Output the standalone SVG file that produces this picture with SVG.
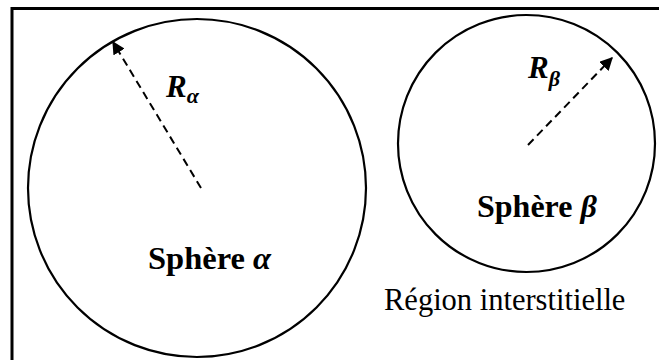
<svg xmlns="http://www.w3.org/2000/svg" width="659" height="360" viewBox="0 0 659 360">
<style>
.c{fill:none;stroke:#000;stroke-width:2.2}
.d{fill:none;stroke:#000;stroke-width:2;stroke-dasharray:8 5}
.b{font-family:"Liberation Serif","Times New Roman",serif;font-weight:bold;fill:#000}
.m{font-family:"Liberation Serif","Times New Roman",serif;font-weight:bold;font-style:italic;fill:#000}
.r{font-family:"Liberation Serif","Times New Roman",serif;fill:#000}
</style>
<defs>
<marker id="ah" viewBox="0 0 10 10" refX="9" refY="5" markerWidth="6.5" markerHeight="6.5" markerUnits="strokeWidth" orient="auto">
<path d="M0,0 L10,5 L0,10 z" fill="#000"/>
</marker>
</defs>
<rect x="0" y="0" width="659" height="360" fill="#fff"/>
<g id="frame"><path d="M12,362 V8.5 H662" fill="none" stroke="#000" stroke-width="3"/></g>
<g id="sphere-alpha">
<circle class="c" cx="197" cy="188" r="169"/>
<text class="b" x="148" y="269" font-size="32.5">Sphère <tspan class="m">α</tspan></text>
</g>
<g id="sphere-beta">
<circle class="c" cx="526.5" cy="143.5" r="128.5"/>
<text class="b" x="477" y="217" font-size="32">Sphère <tspan class="m">β</tspan></text>
</g>
<g id="interstitial">
<text class="r" x="384" y="310" font-size="30.5">Région interstitielle</text>
</g>
<g id="connectors">
<line class="d" x1="201" y1="188" x2="113" y2="42" marker-end="url(#ah)"/>
<line class="d" x1="528" y1="145" x2="612" y2="58" marker-end="url(#ah)"/>
</g>
<g id="labels">
<text class="m" x="166" y="97" font-size="31">R<tspan font-size="22" dy="6">α</tspan></text>
<text class="m" x="528" y="78" font-size="31">R<tspan font-size="22" dy="8">β</tspan></text>
</g>
</svg>
